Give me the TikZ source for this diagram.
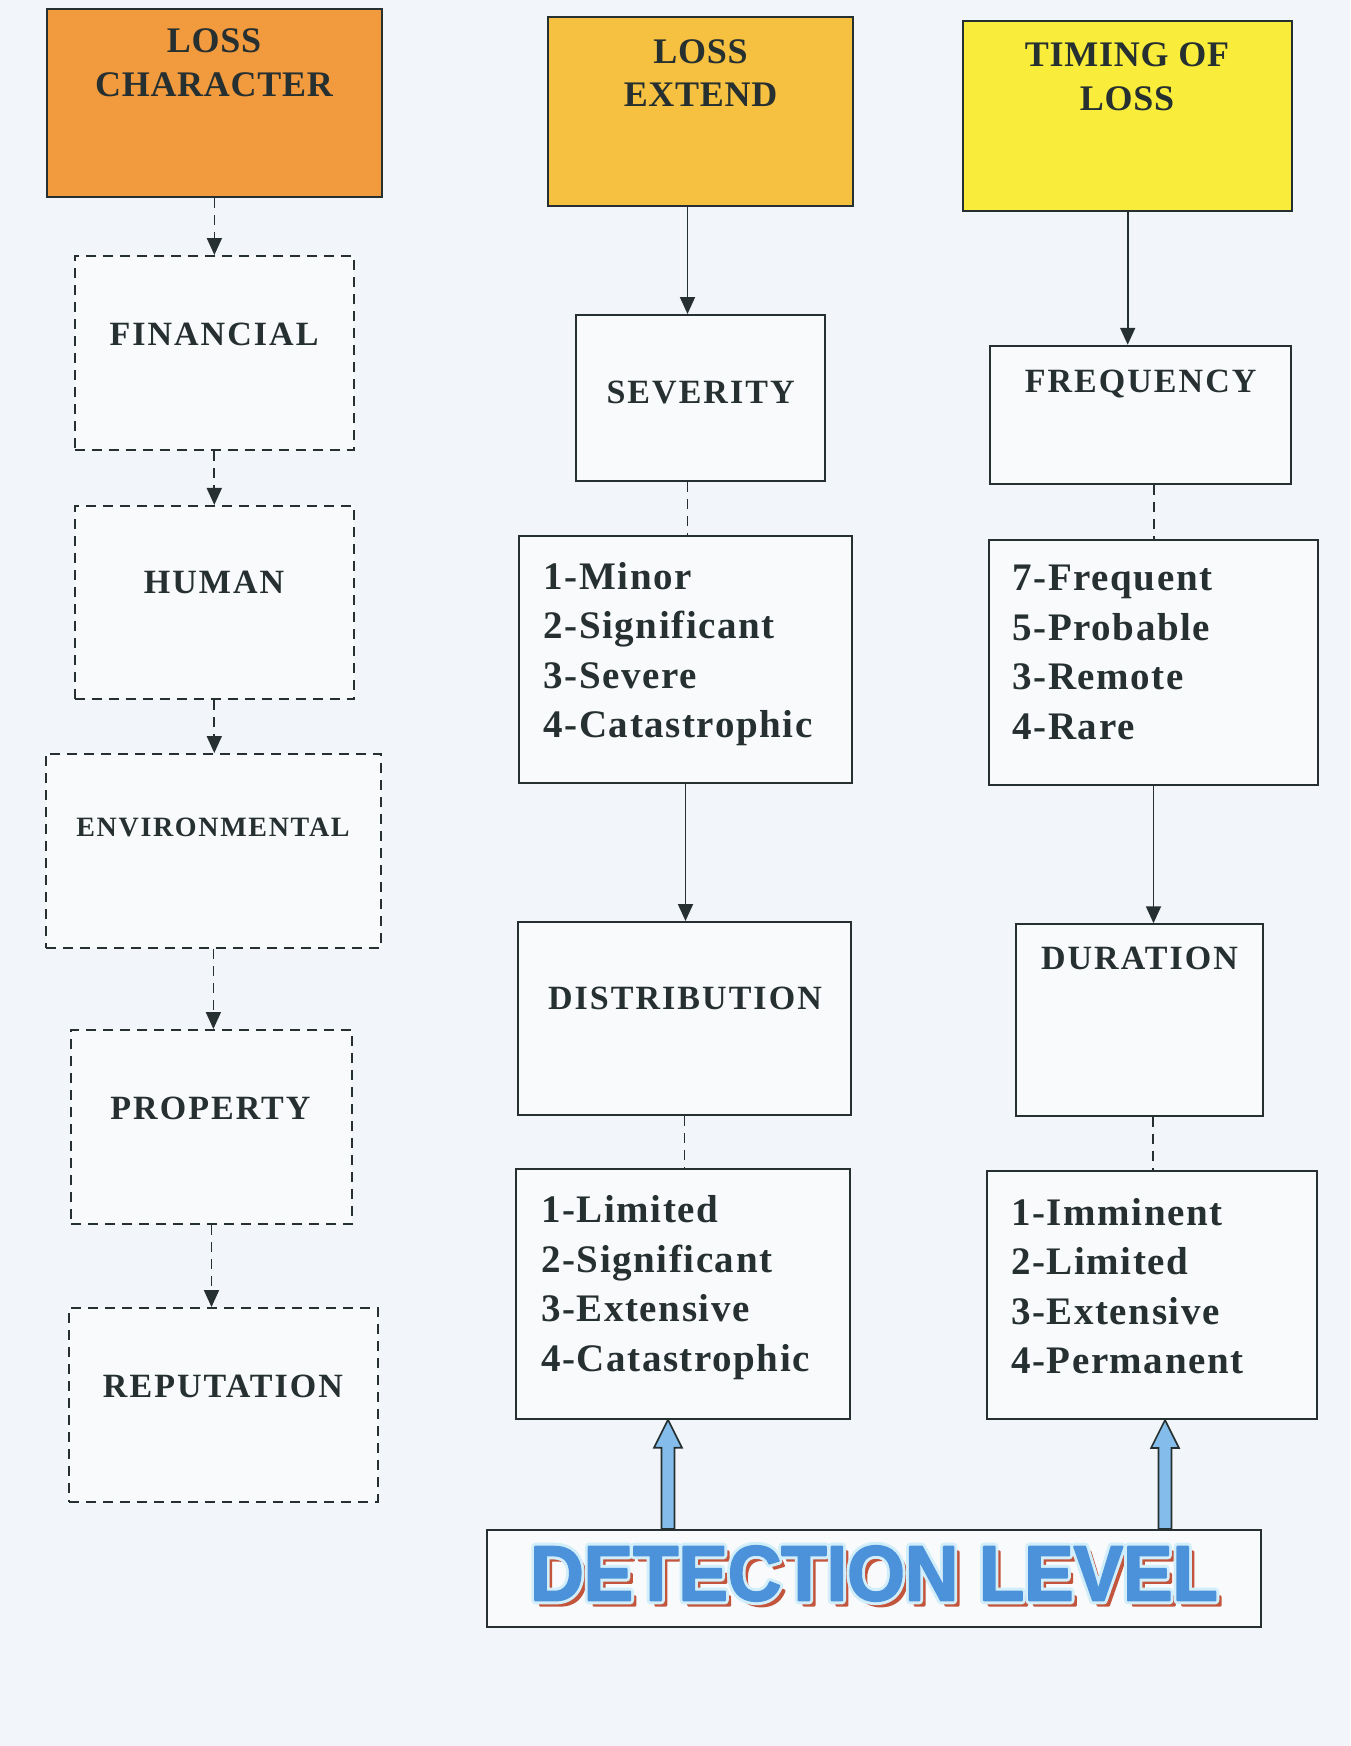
\documentclass[tikz,border=0pt]{standalone}
\usepackage{fontspec}
\setmainfont{Liberation Serif}
\newfontfamily\hdfont[LetterSpace=2]{Liberation Serif}
\newfontfamily\lbfont[LetterSpace=6]{Liberation Serif}
\newfontfamily\lsfont[LetterSpace=4]{Liberation Serif}
\newfontfamily\detfont{Liberation Sans}
\usetikzlibrary{arrows.meta,calc}
\definecolor{bg}{HTML}{F2F6FA}
\definecolor{boxfill}{HTML}{F8FAFC}
\definecolor{ink}{HTML}{263030}
\definecolor{orangeA}{HTML}{F29A3E}
\definecolor{orangeB}{HTML}{F6C040}
\definecolor{yellowC}{HTML}{F9EC3A}
\definecolor{arrowblue}{HTML}{84BDEB}
\definecolor{detblue}{HTML}{4B92DA}
\definecolor{detred}{HTML}{C4553D}
\definecolor{detglow}{HTML}{D2EEFA}
\newcommand\dettxt{\scalebox{0.95}[1]{DETECTION LEVEL}}
% #1 dx, #2 dy, #3 colour, #4 pdf stroke colour, #5 stroke width
\newcommand\detcopy[5]{\rlap{\hspace*{#1}\raisebox{#2}{\color{#3}\special{pdf:literal direct #4 RG #5 w 1 j 2 Tr}\dettxt\special{pdf:literal direct 0 Tr}}}}
\tikzset{
  box/.style={draw=ink, line width=2pt, fill=boxfill, inner sep=0pt, rectangle},
  dbox/.style={box, dash pattern=on 10pt off 7pt},
  hd/.style={text=ink, font=\hdfont\bfseries\fontsize{36}{43.5}\selectfont, align=center, inner sep=0pt},
  lb/.style={text=ink, font=\lbfont\bfseries\fontsize{34}{40}\selectfont, inner sep=0pt, anchor=base},
  lbs/.style={text=ink, font=\lbfont\bfseries\fontsize{28}{34}\selectfont, inner sep=0pt, anchor=base},
  ls/.style={text=ink, font=\lsfont\bfseries\fontsize{39}{49.5}\selectfont, align=left, inner sep=0pt, anchor=north west},
  arr/.style={draw=ink, line width=1.8pt, -{Triangle[length=17pt,width=15pt]}},
  darr/.style={arr, dash pattern=on 10pt off 7pt},
  dline/.style={draw=ink, line width=1.8pt, dash pattern=on 10pt off 7pt},
  dettext/.style={font=\detfont\bfseries\fontsize{78}{80}\selectfont, inner sep=0pt},
  bluearr/.style={fill=arrowblue, draw=ink, line width=1.6pt, line join=miter}
}
\begin{document}
\begin{tikzpicture}[x=1pt,y=-1pt]
\fill[bg] (0,0) rectangle (1350,1746);
\useasboundingbox (0,0) rectangle (1350,1746);

% headers
\node[box, fill=orangeA, minimum width=335pt, minimum height=188pt] (lc) at (214.4,103) {};
\node[box, fill=orangeB, minimum width=305pt, minimum height=189pt] (le) at (700.5,111.4) {};
\node[box, fill=yellowC, minimum width=328.5pt, minimum height=189.5pt] (tl) at (1127.7,115.8) {};
\node[hd] (lct) at (214,63) {LOSS\\CHARACTER};
\node[hd] (let) at (700.6,72.9) {LOSS\\EXTEND};
\node[hd] (tlt) at (1127,76.9) {TIMING OF\\LOSS};

% column 1
\node[dbox, minimum width=279.4pt, minimum height=194pt] (fin) at (214.3,353) {};
\node[dbox, minimum width=279.4pt, minimum height=193.5pt] (hum) at (214.3,602.7) {};
\node[dbox, minimum width=335.3pt, minimum height=194pt] (env) at (213.4,851) {};
\node[dbox, minimum width=281pt, minimum height=194pt] (prop) at (211.5,1127) {};
\node[dbox, minimum width=308.6pt, minimum height=193.5pt] (rep) at (223.3,1404.8) {};
\node[lb] (fint) at (214,345.3) {FINANCIAL};
\node[lb] (humt) at (214,593.8) {HUMAN};
\node[lbs] (envt) at (213,836.9) {ENVIRONMENTAL};
\node[lb] (propt) at (210.5,1119.3) {PROPERTY};
\node[lb] (rept) at (223,1397) {REPUTATION};

\draw[darr] (lc.south) -- (lc.south |- fin.north);
\draw[darr] (fin.south) -- (fin.south |- hum.north);
\draw[darr] (hum.south) -- (hum.south |- env.north);
\draw[darr] (env.south) -- (env.south |- prop.north);
\draw[darr] (prop.south) -- (prop.south |- rep.north);

% column 2
\node[box, minimum width=249pt, minimum height=166pt] (sev) at (700.5,398) {};
\node[box, minimum width=333pt, minimum height=247pt] (sevl) at (685.5,659.5) {};
\node[box, minimum width=333pt, minimum height=193pt] (dist) at (684.5,1018.5) {};
\node[box, minimum width=334pt, minimum height=249.5pt] (distl) at (683,1294) {};
\node[lb] (sevt) at (700.6,403.3) {SEVERITY};
\node[lb] (distt) at (685,1009.3) {DISTRIBUTION};
\node[ls] (sevlt) at (543.5,562) {1-Minor\\2-Significant\\3-Severe\\4-Catastrophic};
\node[ls] (distlt) at (541,1195.5) {1-Limited\\2-Significant\\3-Extensive\\4-Catastrophic};

% column 3
\node[box, minimum width=301pt, minimum height=138.5pt] (freq) at (1140.5,415) {};
\node[box, minimum width=329pt, minimum height=245pt] (freql) at (1153.5,662.5) {};
\node[box, minimum width=247pt, minimum height=191.5pt] (dur) at (1139.5,1020) {};
\node[box, minimum width=329.6pt, minimum height=248.4pt] (durl) at (1151.8,1294.8) {};
\node[lb] (freqt) at (1140.6,392.3) {FREQUENCY};
\node[lb] (durt) at (1139.5,969.3) {DURATION};
\node[ls] (freqlt) at (1012.5,565) {7-Frequent\\5-Probable\\3-Remote\\4-Rare};
\node[ls] (durlt) at (1011,1198) {1-Imminent\\2-Limited\\3-Extensive\\4-Permanent};

% connectors col 2/3
\draw[arr] ([xshift=-13pt]le.south) -- ([xshift=-13pt]le.south |- sev.north);
\draw[arr] (tl.south) -- (tl.south |- freq.north);
\draw[dline] ([xshift=-13pt]sev.south) -- ([xshift=-13pt]sev.south |- sevl.north);
\draw[dline] ([xshift=13.5pt]freq.south) -- ([xshift=13.5pt]freq.south |- freql.north);
\draw[arr] (sevl.south) -- (sevl.south |- dist.north);
\draw[arr] (freql.south) -- (freql.south |- dur.north);
\draw[dline] (dist.south) -- (dist.south |- distl.north);
\draw[dline] ([xshift=13.5pt]dur.south) -- ([xshift=13.5pt]dur.south |- durl.north);

% detection level
\node[box, minimum width=774pt, minimum height=97pt] (det) at (874,1578.5) {};
\node[dettext] (dett) at ($(det.center)+(0,-2.5)$) {%
  \detcopy{5pt}{-5pt}{detred}{0.769 0.333 0.239}{2.5}%
  \detcopy{0pt}{0pt}{detglow}{0.824 0.933 0.98}{8}%
  {\color{detblue}\special{pdf:literal direct 0.294 0.573 0.855 RG 2 w 1 j 2 Tr}\dettxt\special{pdf:literal direct 0 Tr}}};

\filldraw[bluearr] let \p1=([xshift=-206pt]det.north), \p2=(distl.south) in
  (\x1-6.5pt,\y1) -- (\x1-6.5pt,\y2-28pt) -- (\x1-14pt,\y2-28pt) -- (\x1,\y2)
  -- (\x1+14pt,\y2-28pt) -- (\x1+6.5pt,\y2-28pt) -- (\x1+6.5pt,\y1) -- cycle;
\filldraw[bluearr] let \p1=([xshift=291pt]det.north), \p2=(durl.south) in
  (\x1-6.5pt,\y1) -- (\x1-6.5pt,\y2-28pt) -- (\x1-14pt,\y2-28pt) -- (\x1,\y2)
  -- (\x1+14pt,\y2-28pt) -- (\x1+6.5pt,\y2-28pt) -- (\x1+6.5pt,\y1) -- cycle;
\end{tikzpicture}
\end{document}
